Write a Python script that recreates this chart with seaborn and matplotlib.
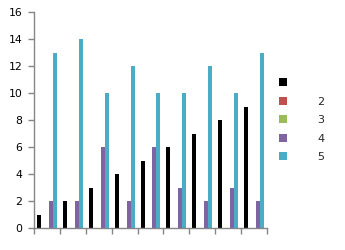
import numpy as np
import pandas as pd
import matplotlib
matplotlib.use("Agg")
import matplotlib.pyplot as plt
import seaborn as sns
from matplotlib.patches import Patch

categories = ["1", "2", "3", "4", "5", "6", "7", "8", "9"]
series_names = ["1", "2", "3", "4", "5"]
legend_labels = ["", "2", "3", "4", "5"]
s1 = [1, 2, 3, 4, 5, 6, 7, 8, 9]
s2 = [0, 0, 0, 0, 0, 0, 0, 0, 0]
s3 = [0, 0, 0, 0, 0, 0, 0, 0, 0]
s4 = [2, 2, 6, 2, 6, 3, 2, 3, 2]
s5 = [13, 14, 10, 12, 10, 10, 12, 10, 13]
colors = ["#000000", "#C0504D", "#9BBB59", "#8064A2", "#4BACC6"]
yticks = [0, 2, 4, 6, 8, 10, 12, 14, 16]

rows = []
for name, vals in zip(series_names, [s1, s2, s3, s4, s5]):
    for c, v in zip(categories, vals):
        rows.append({"cat": c, "series": name, "value": v})
df = pd.DataFrame(rows)

sns.set_style("white")
plt.rcParams['font.family'] = ['DejaVu Sans']

fig = plt.figure(figsize=(3.45, 2.5), dpi=100)
ax = fig.add_axes([34/345, 1-228/250, (267-34)/345, (228-12)/250])

sns.barplot(data=df, x="cat", y="value", hue="series", order=categories,
            hue_order=series_names, palette=colors, width=0.77,
            saturation=1, legend=False, ax=ax, linewidth=0)

ax.set_xlim(-0.5, len(categories) - 0.5)
ax.set_ylim(0, 16)
ax.set_yticks(yticks)
ax.set_yticklabels([str(t) for t in yticks], fontsize=7.8)
ax.set_xticks(np.arange(-0.5, len(categories), 1))
ax.set_xticklabels([])
ax.set_xlabel("")
ax.set_ylabel("")
for sp in ["top", "right"]:
    ax.spines[sp].set_visible(False)
for sp in ["left", "bottom"]:
    ax.spines[sp].set_color("#868686")
    ax.spines[sp].set_linewidth(1)
ax.tick_params(axis="both", direction="out", length=4, width=1, color="#868686",
               labelcolor="black", pad=4.5)
ax.tick_params(axis="y", left=True)
ax.tick_params(axis="x", bottom=True)

handles = [Patch(facecolor=c, edgecolor="none") for c in colors]
leg = ax.legend(handles, legend_labels, loc="upper left", bbox_to_anchor=(279/345, 1-78/250),
                bbox_transform=fig.transFigure, frameon=False, fontsize=8,
                handlelength=0.72, handleheight=0.72, handletextpad=2.75,
                labelspacing=0.77, borderaxespad=0, borderpad=0)

fig.savefig("out.png", dpi=100)
